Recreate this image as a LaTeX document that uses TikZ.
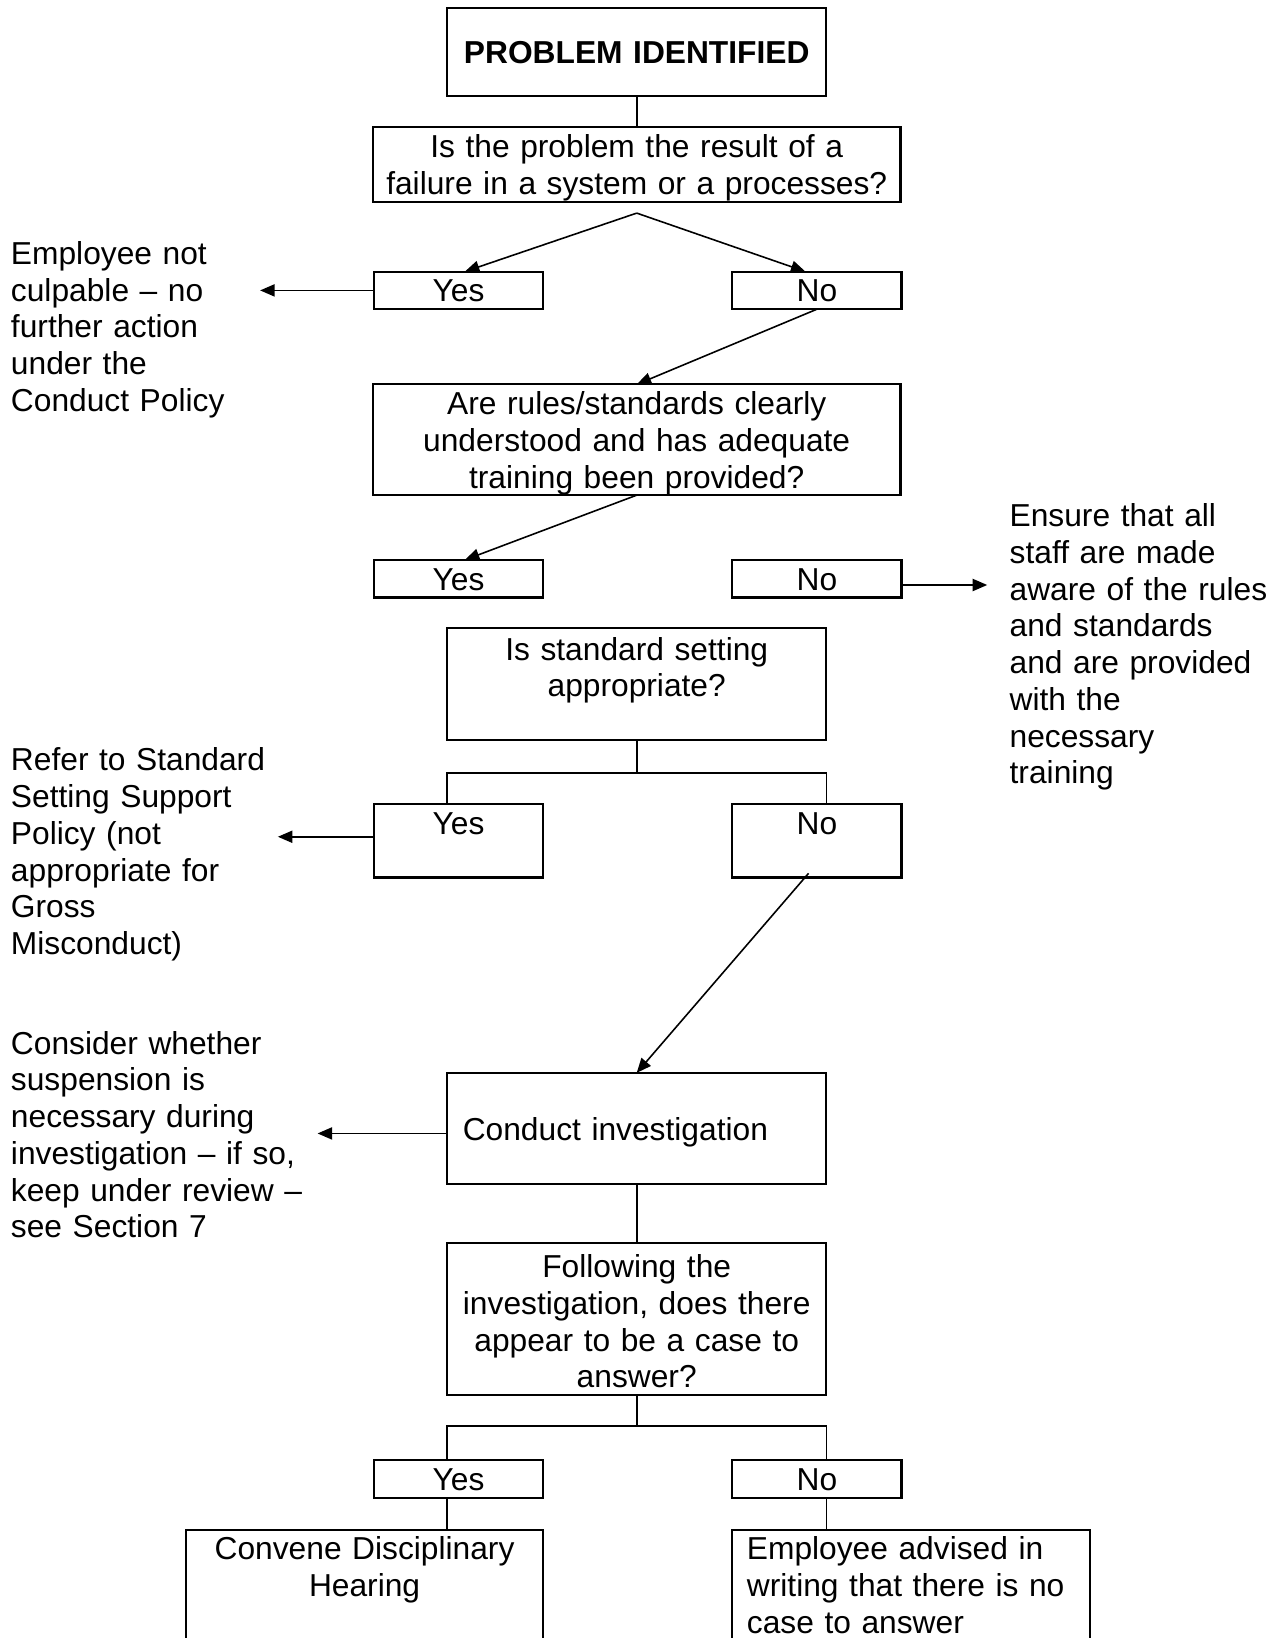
\documentclass[tikz,border=0pt]{standalone}
\usepackage{fontspec}
\setmainfont{Liberation Sans}
\usetikzlibrary{arrows.meta,calc}
\newlength\pxu
\setlength\pxu{0.395pt}

\tikzset{
  box/.style={draw, line width=0.8pt, inner sep=0pt, outer sep=0pt, anchor=north west, align=center},
  choice/.style={box, text width=162\pxu, text height=29\pxu, text depth=7\pxu},
  choicetall/.style={box, text width=162\pxu, text height=29\pxu, text depth=41\pxu},
  note/.style={inner sep=0pt, anchor=base west, align=left},
  link/.style={line width=0.6pt},
}

\begin{document}
\begin{tikzpicture}[x=0.395pt, y=-0.395pt, >={Triangle[length=5.5pt,width=4.6pt]},
    font=\fontsize{12}{13.9}\selectfont]
  \clip (0,0) rectangle (1221,1568);

  % main column
  \node[box, text width=363\pxu, text height=53\pxu, text depth=31\pxu,
        font=\fontsize{12}{13.9}\selectfont\bfseries] (prob) at (428,8) {PROBLEM IDENTIFIED};
  \node[box, text width=505\pxu, text height=29\pxu, text depth=42\pxu] (q1) at (357,122)
        {Is the problem the result of a\\failure in a system or a processes?};
  \node[choice] (yes1) at (358,260) {Yes};
  \node[choice] (no1) at (701,260) {No};
  \node[box, text width=505\pxu, text height=29\pxu, text depth=77\pxu] (q2) at (357,368)
        {Are rules/standards clearly\\understood and has adequate\\training been provided?};
  \node[choice] (yes2) at (358,536) {Yes};
  \node[choice] (no2) at (701,536) {No};
  \node[box, text width=363\pxu, text height=31\pxu, text depth=76\pxu] (q3) at (428,601)
        {Is standard setting\\appropriate?};
  \node[choicetall] (yes3) at (358,770) {Yes};
  \node[choicetall] (no3) at (701,770) {No};
  \node[box, align=left, inner xsep=15\pxu, text width=333\pxu, text height=65\pxu, text depth=41\pxu]
        (cond) at (428,1027) {Conduct investigation};
  \node[box, text width=363\pxu, text height=33\pxu, text depth=112\pxu] (q4) at (428,1190)
        {Following the\\investigation, does there\\appear to be a case to\\answer?};
  \node[choice] (yes4) at (358,1398) {Yes};
  \node[choice] (no4) at (701,1398) {No};
  \node[box, text width=342\pxu, text height=28\pxu, text depth=87\pxu] (conv) at (178,1465)
        {Convene Disciplinary\\Hearing};
  \node[box, align=left, inner xsep=14\pxu, text width=314\pxu, text height=28\pxu, text depth=87\pxu]
        (adv) at (701,1465) {Employee advised in\\writing that there is no\\case to answer};

  % side notes
  \node[note, text width=238\pxu] (culp) at (10,253)
        {Employee not\\culpable -- no\\further action\\under the\\Conduct Policy};
  \node[note, text width=255\pxu] (ensure) at (966,504)
        {Ensure that all\\staff are made\\aware of the rules\\and standards\\and are provided\\with the\\necessary\\training};
  \node[note, text width=255\pxu] (refer) at (10,738)
        {Refer to Standard\\Setting Support\\Policy (not\\appropriate for\\Gross\\Misconduct)};
  \node[note, text width=293\pxu] (consider) at (10,1009)
        {Consider whether\\suspension is\\necessary during\\investigation -- if so,\\keep under review --\\see Section 7};

  % connectors
  \draw[link] (prob.south) -- (q1.north);
  \coordinate (q1fork) at ($(q1.south)+(0,11)$);
  \draw[link,->] (q1fork) -- ($(yes1.north)+(6,0)$);
  \draw[link,->] (q1fork) -- ($(no1.north)+(-11,0)$);
  \draw[link,->] (yes1.west) -- (yes1.west -| culp.east);
  \draw[link,->] (no1.south) -- (q2.north);
  \draw[link,->] (q2.south) -- ($(yes2.north)+(6,0)$);
  \draw[link,->] ($(no2.east)+(0,6)$) -- ($(no2.east -| ensure.west)+(-21,6)$);
  \draw[link] (q3.south) -- ++(0,32) coordinate (q3fork);
  \draw[link] (yes3.north -| q3.west) |- (q3fork) -| (no3.north -| q3.east);
  \draw[link,->] ($(yes3.west)+(0,-4)$) -- ($(yes3.west -| refer.east)+(0,-4)$);
  \draw[link,->] ($(no3.south)+(-8,-4)$) -- (cond.north);
  \draw[link,->] ($(cond.west)+(0,5)$) -- ($(cond.west -| consider.east)+(0,5)$);
  \draw[link] (cond.south) -- (q4.north);
  \draw[link] (q4.south) -- ++(0,30) coordinate (q4fork);
  \draw[link] (yes4.north -| q4.west) |- (q4fork) -| (no4.north -| q4.east);
  \draw[link] (yes4.south -| q4.west) -- (conv.north -| q4.west);
  \draw[link] (no4.south -| q4.east) -- (adv.north -| q4.east);
\end{tikzpicture}
\end{document}
